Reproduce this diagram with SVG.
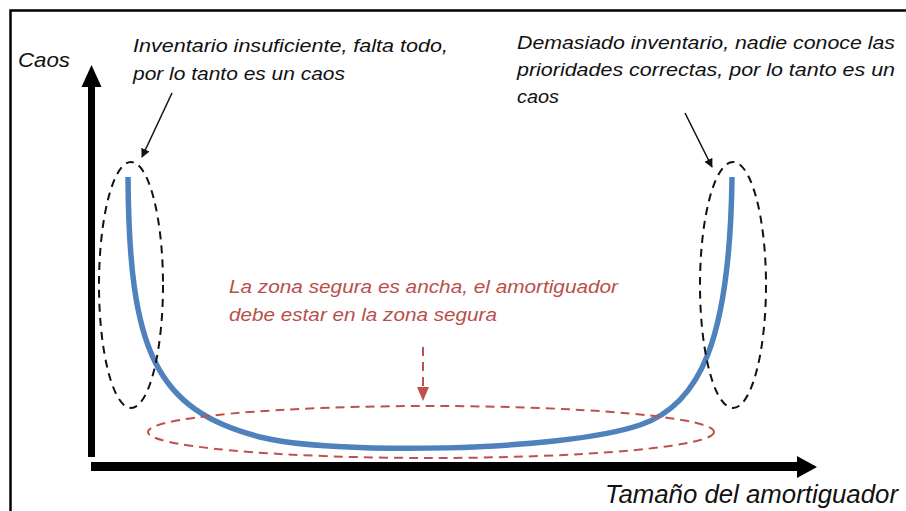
<svg xmlns="http://www.w3.org/2000/svg" width="906" height="511" viewBox="0 0 906 511">
<defs>
<style>
.t{font-family:"Liberation Sans",Arial,sans-serif;font-style:italic;fill:#111}
.r{fill:#b8504a}
.dk{fill:none;stroke:#111;stroke-width:2;stroke-dasharray:8 6}
.dr{fill:none;stroke:#c0504d;stroke-width:2;stroke-dasharray:9 6}
</style>
<marker id="ah" viewBox="0 0 10 10" refX="9" refY="5" markerWidth="9" markerHeight="9" markerUnits="userSpaceOnUse" orient="auto">
<path d="M0,0 L10,5 L0,10 z" fill="#111"/>
</marker>
</defs>
<rect x="0" y="0" width="906" height="511" fill="#fff"/>
<rect x="10.5" y="10.5" width="1000" height="600" fill="none" stroke="#000" stroke-width="2.5"/>

<g id="axes">
<rect x="88" y="84" width="7" height="373" fill="#000"/>
<polygon points="81.5,87 101.5,87 91.5,65" fill="#000"/>
<rect x="91" y="462" width="708" height="9" fill="#000"/>
<polygon points="797,456 797,478 817,467" fill="#000"/>
</g>

<g id="curve">
<path d="M128,177 C129,350 155,410 260,437 C330,455 560,452 640,425 C700,405 730,340 732,177" fill="none" stroke="#4f81bd" stroke-width="5.5"/>
</g>

<g id="left-zone"><ellipse cx="131" cy="285" rx="32" ry="123" class="dk"/></g>
<g id="right-zone"><ellipse cx="733" cy="285" rx="33" ry="123" class="dk"/></g>
<g id="safe-zone"><ellipse cx="431" cy="432" rx="283" ry="26" class="dr"/></g>

<g id="connectors">
<line x1="172" y1="93" x2="142" y2="157" stroke="#111" stroke-width="1.5" marker-end="url(#ah)"/>
<line x1="685" y1="113" x2="712" y2="167" stroke="#111" stroke-width="1.5" marker-end="url(#ah)"/>
<line x1="423" y1="347" x2="423" y2="388" class="dr"/>
<polygon points="417,387 429,387 423,401" fill="#c0504d"/>
</g>

<g id="label-caos"><text class="t" x="18" y="67" font-size="21" textLength="52" lengthAdjust="spacingAndGlyphs">Caos</text></g>
<g id="label-x"><text class="t" x="605" y="503" font-size="26" textLength="293" lengthAdjust="spacingAndGlyphs">Tamaño del amortiguador</text></g>

<g id="note-left">
<text class="t" x="133" y="52" font-size="19" textLength="315" lengthAdjust="spacingAndGlyphs">Inventario insuficiente, falta todo,</text>
<text class="t" x="133" y="80" font-size="19" textLength="212" lengthAdjust="spacingAndGlyphs">por lo tanto es un caos</text>
</g>

<g id="note-right">
<text class="t" x="517" y="49" font-size="19" textLength="378" lengthAdjust="spacingAndGlyphs">Demasiado inventario, nadie conoce las</text>
<text class="t" x="517" y="76" font-size="19" textLength="378" lengthAdjust="spacingAndGlyphs">prioridades correctas, por lo tanto es un</text>
<text class="t" x="517" y="103" font-size="19" textLength="42" lengthAdjust="spacingAndGlyphs">caos</text>
</g>

<g id="note-center">
<text class="t r" x="229" y="293" font-size="19" textLength="389" lengthAdjust="spacingAndGlyphs">La zona segura es ancha, el amortiguador</text>
<text class="t r" x="229" y="321" font-size="19" textLength="268" lengthAdjust="spacingAndGlyphs">debe estar en la zona segura</text>
</g>
</svg>
